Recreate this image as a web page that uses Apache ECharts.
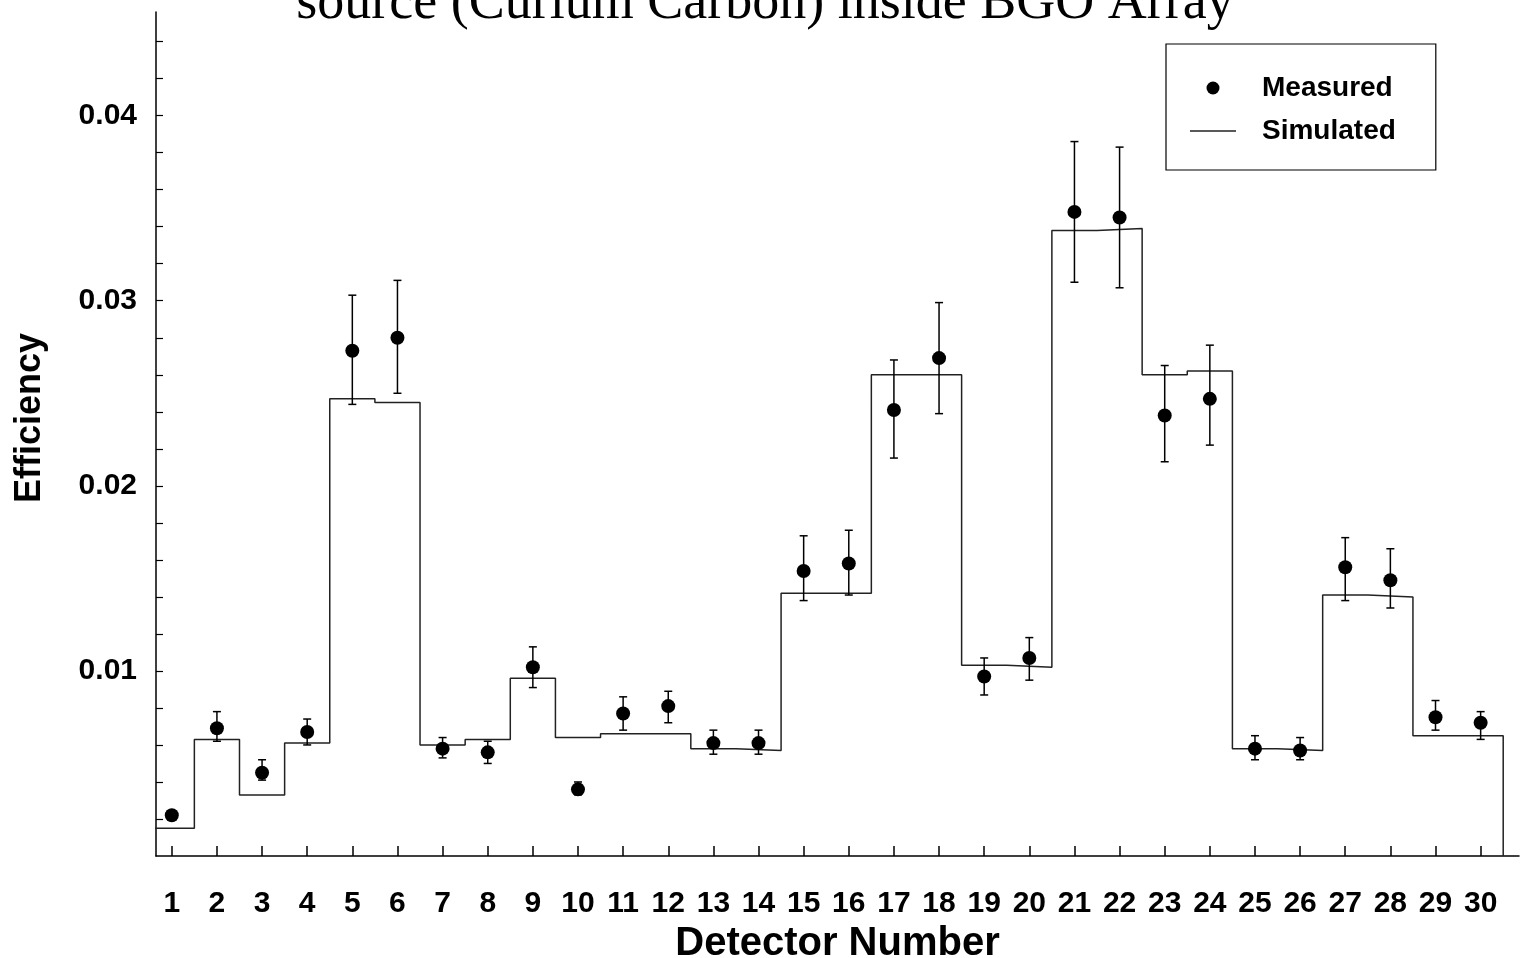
<!DOCTYPE html>
<html>
<head>
<meta charset="utf-8">
<script src="https://cdn.jsdelivr.net/npm/echarts@6/dist/echarts.min.js"></script>
<style>
html,body{margin:0;padding:0;background:#fff;}
#chart{width:1522px;height:958px;}
</style>
</head>
<body>
<div id="chart"></div>
<script>
// ---- data ----
const detectors = [1,2,3,4,5,6,7,8,9,10,11,12,13,14,15,16,17,18,19,20,21,22,23,24,25,26,27,28,29,30];
const measured = [0.0022,0.0069,0.0045,0.0067,0.0273,0.0280,0.0058,0.0056,0.0102,0.0036,
                  0.0077,0.0081,0.0061,0.0061,0.0154,0.0158,0.0241,0.0269,0.0097,0.0107,
                  0.0348,0.0345,0.0238,0.0247,0.0058,0.0057,0.0156,0.0149,0.0075,0.0072];
const measuredLow = [0.0020,0.0062,0.0041,0.0060,0.0244,0.0250,0.0053,0.0050,0.0091,0.0033,
                     0.0068,0.0072,0.0055,0.0055,0.0138,0.0141,0.0215,0.0239,0.0087,0.0095,
                     0.0310,0.0307,0.0213,0.0222,0.0052,0.0052,0.0138,0.0134,0.0068,0.0063];
const measuredHigh = [0.0024,0.0078,0.0052,0.0074,0.0303,0.0311,0.0064,0.0062,0.0113,0.0040,
                      0.0086,0.0089,0.0068,0.0068,0.0173,0.0176,0.0268,0.0299,0.0107,0.0118,
                      0.0386,0.0383,0.0265,0.0276,0.0065,0.0064,0.0172,0.0166,0.0084,0.0078];
const simulated = [0.0015,0.0063,0.0033,0.0061,0.0247,0.0245,0.0060,0.0063,0.0096,0.0064,
                   0.0066,0.0066,0.0058,0.0057,0.0142,0.0142,0.0260,0.0260,0.0103,0.0102,
                   0.0338,0.0339,0.0260,0.0262,0.0058,0.0057,0.0141,0.0140,0.0065,0.0065];
const yTickValues = [0.002,0.004,0.006,0.008,0.01,0.012,0.014,0.016,0.018,0.02,0.022,0.024,0.026,0.028,0.03,0.032,0.034,0.036,0.038,0.04,0.042,0.044];
const yLabelValues = [0.01,0.02,0.03,0.04];
const titleText = 'source (Curium Carbon) inside BGO Array';

// ---- derived series data ----
const stepData = [];
detectors.forEach((d,i)=>{ stepData.push([d-0.5, simulated[i]]); stepData.push([d+0.5, simulated[i]]); });
stepData.push([detectors[detectors.length-1]+0.5, 0]);
const pointData = detectors.map((d,i)=>[d, measured[i]]);
const errData = detectors.map((d,i)=>[d, measuredLow[i], measuredHigh[i]]);

const chart = echarts.init(document.getElementById('chart'), null, {renderer:'canvas'});
const sans = '"Liberation Sans", Arial, sans-serif';

function renderErr(params, api){
  const x = api.value(0), lo = api.value(1), hi = api.value(2);
  const a = api.coord([x, lo]), b = api.coord([x, hi]);
  const w = 4;
  const style = {stroke:'#000', lineWidth:1.5, fill:null};
  return {type:'group', children:[
    {type:'line', shape:{x1:a[0], y1:a[1], x2:b[0], y2:b[1]}, style:style},
    {type:'line', shape:{x1:b[0]-w, y1:b[1], x2:b[0]+w, y2:b[1]}, style:style},
    {type:'line', shape:{x1:a[0]-w, y1:a[1], x2:a[0]+w, y2:a[1]}, style:style}
  ]};
}

chart.setOption({
  backgroundColor:'#fff',
  animation:false,
  graphic:[{
    type:'text', x:765, y:-23, z:10,
    style:{text:titleText, font:'54px "Liberation Serif", "Times New Roman", serif', fill:'#000', textAlign:'center', textVerticalAlign:'top'}
  }],
  legend:{
    left:1166, top:44, orient:'vertical',
    data:[{name:'Measured', icon:'circle'},{name:'Simulated', icon:'path://M0,0H46V1.4H0Z'}],
    itemWidth:46, itemHeight:13, itemGap:13,
    padding:[29,40,24,24],
    borderColor:'#000', borderWidth:1.2,
    selectedMode:false,
    textStyle:{fontFamily:sans, fontSize:28, fontWeight:'bold', color:'#000', lineHeight:30, padding:[0,0,0,21]}
  },
  grid:{left:156, right:3, top:12, bottom:102, containLabel:false, outerBoundsMode:'none'},
  xAxis:{
    type:'value', min:0.65, max:30.85,
    name:'Detector Number', nameLocation:'middle', nameGap:66,
    nameTextStyle:{fontFamily:sans, fontSize:40, fontWeight:'bold', color:'#000'},
    axisLine:{show:true, onZero:false, lineStyle:{color:'#000', width:1.5}},
    axisTick:{show:true, inside:true, length:10, customValues:detectors, lineStyle:{color:'#000', width:1.5}},
    axisLabel:{customValues:detectors, margin:33, fontFamily:sans, fontSize:30, fontWeight:'bold', color:'#000'},
    splitLine:{show:false}
  },
  yAxis:{
    type:'value', min:0, max:0.0456,
    name:'Efficiency', nameLocation:'middle', nameGap:108, nameRotate:90,
    nameTextStyle:{fontFamily:sans, fontSize:36, fontWeight:'bold', color:'#000', padding:[0,0,0,32]},
    axisLine:{show:true, lineStyle:{color:'#000', width:1.5}},
    axisTick:{show:true, inside:true, length:7, customValues:yTickValues, lineStyle:{color:'#000', width:1.2}},
    axisLabel:{customValues:yLabelValues, margin:19, fontFamily:sans, fontSize:30, fontWeight:'bold', color:'#000'},
    splitLine:{show:false}
  },
  series:[
    {name:'Simulated', type:'line', data:stepData, symbol:'none', showSymbol:false, clip:true,
     lineStyle:{color:'#222', width:1.5}, itemStyle:{color:'#222'}, z:2},
    {name:'errors', type:'custom', data:errData, renderItem:renderErr, encode:{x:0, y:[1,2]}, z:3},
    {name:'Measured', type:'scatter', data:pointData, symbol:'circle', symbolSize:14,
     itemStyle:{color:'#000', opacity:1}, z:4}
  ]
});
</script>
</body>
</html>
